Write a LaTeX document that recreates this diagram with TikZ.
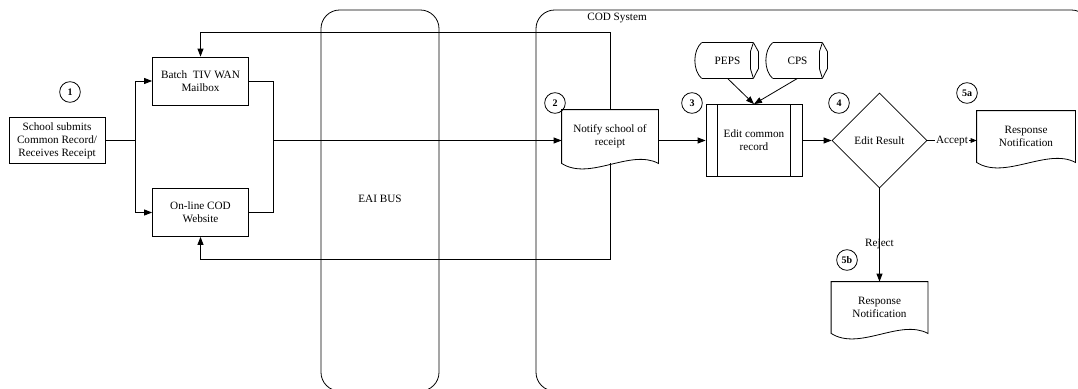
\documentclass[tikz,border=0pt]{standalone}
\usepackage{fontspec}
\setmainfont{Liberation Serif}
\usetikzlibrary{shapes.geometric, arrows.meta, calc}

\begin{document}
\begin{tikzpicture}[x=0.75pt, y=-0.75pt, line width=0.6pt,
  font=\fontsize{8.4}{9.75}\selectfont,
  box/.style={draw, align=center, minimum width=72pt, minimum height=36pt, inner sep=1pt},
  doc/.style={align=center, minimum width=72pt, minimum height=39.75pt, inner sep=1pt},
  store/.style={minimum height=26.25pt, inner sep=0pt},
  badge/.style={draw, circle, minimum size=15.5pt, inner sep=0pt, font=\fontsize{7.5}{8}\selectfont\bfseries},
  arr/.style={-{Triangle[length=6pt, width=4.5pt]}}]
  \useasboundingbox (0,0) rectangle (1078,389);
  \clip (0,0) rectangle (1078,389);

  % lanes
  \draw[rounded corners=14pt] (321,10) rectangle (439,391);
  \draw[rounded corners=14pt] (536,10) rectangle (1090,391);
  \node (eai) at (380,199) {EAI BUS};
  \node (codsys) at (617,18) {COD System};

  % process nodes
  \node[box, minimum height=35pt] (school) at (57,140.5) {School submits\\Common Record/\\Receives Receipt};
  \node[box] (batch) at (200.5,81) {Batch~ TIV WAN\\Mailbox};
  \node[box] (online) at (200.5,212.5) {On-line COD\\Website};
  \node[doc] (notify) at (610,136.5) {Notify school of\\receipt};
  \node[box, minimum height=54pt] (edit) at (754,140.5) {Edit common\\record};
  \node[store, minimum width=38.25pt] (peps) at (727.5,60.5) {PEPS};
  \node[store, minimum width=36.75pt] (cps) at (797.5,60.5) {CPS};
  \node[draw, diamond, aspect=1, minimum width=71.25pt, minimum height=71.25pt, inner sep=0pt] (result) at (879.5,140.5) {Edit Result};
  \node[doc, minimum width=73.5pt, minimum height=38.25pt] (accept) at (1026,136.5) {Response\\Notification};
  \node[doc, minimum height=38.25pt] (reject) at (879.5,307.5) {Response\\Notification};

  % document outlines
  \foreach \d in {notify, accept, reject} {
    \draw (\d.north west) -- (\d.north east) -- (\d.south east)
      .. controls ($(\d.south east)+(-28,-15)$) and ($(\d.south west)+(28,18)$) .. (\d.south west) -- cycle;
  }
  % stored data outlines
  \foreach \s in {peps, cps} {
    \draw (\s.north west) -- (\s.north east) (\s.south west) -- (\s.south east);
    \draw (\s.north west) .. controls ($(\s.north west)+(-9,8)$) and ($(\s.south west)+(-9,-8)$) .. (\s.south west);
    \draw (\s.north east) -- ++(5,9) -- ++(0,17) -- (\s.south east);
    \draw (\s.north east) -- ++(-3,9) -- ++(0,17) -- (\s.south east);
  }
  \draw ([xshift=9pt]edit.north west) -- ([xshift=9pt]edit.south west);
  \draw ([xshift=-9pt]edit.north east) -- ([xshift=-9pt]edit.south east);

  % step numbers
  \foreach \n/\x/\y in {1/70/92, 2/555/103, 3/692/103, 4/839/103, 5a/967/93, 5b/847/260}
    \node[badge] (c\n) at (\x,\y) {\n};

  % connectors
  \coordinate (split) at (135,140.5);
  \coordinate (merge) at (273,140.5);
  \draw (school.east) -- (split);
  \draw[arr] (split) |- (batch.west);
  \draw[arr] (split) |- (online.west);
  \draw (batch.east) -| (merge);
  \draw (online.east) -| (merge);
  \draw[arr] (merge) -- (merge -| notify.west);
  \draw[arr] (notify.north) -- ++(0,-77) -| (batch.north);
  \draw[arr] (notify.south) -- ++(0,96) -| (online.south);
  \draw[arr] (notify.east |- edit.west) -- (edit.west);
  \draw[arr] (peps.south) -- (edit.north);
  \draw[arr] (cps.south) -- (edit.north);
  \draw[arr] (edit.east) -- (result.west);
  \draw[-{Triangle[length=4.5pt, width=3.5pt]}] (result.east) -- node[fill=white, inner sep=1pt] (acclbl) {Accept} (result.east -| accept.west);
  \draw[arr] (result.south) -- node[pos=0.6] (rejlbl) {Reject} (reject.north);
\end{tikzpicture}
\end{document}
